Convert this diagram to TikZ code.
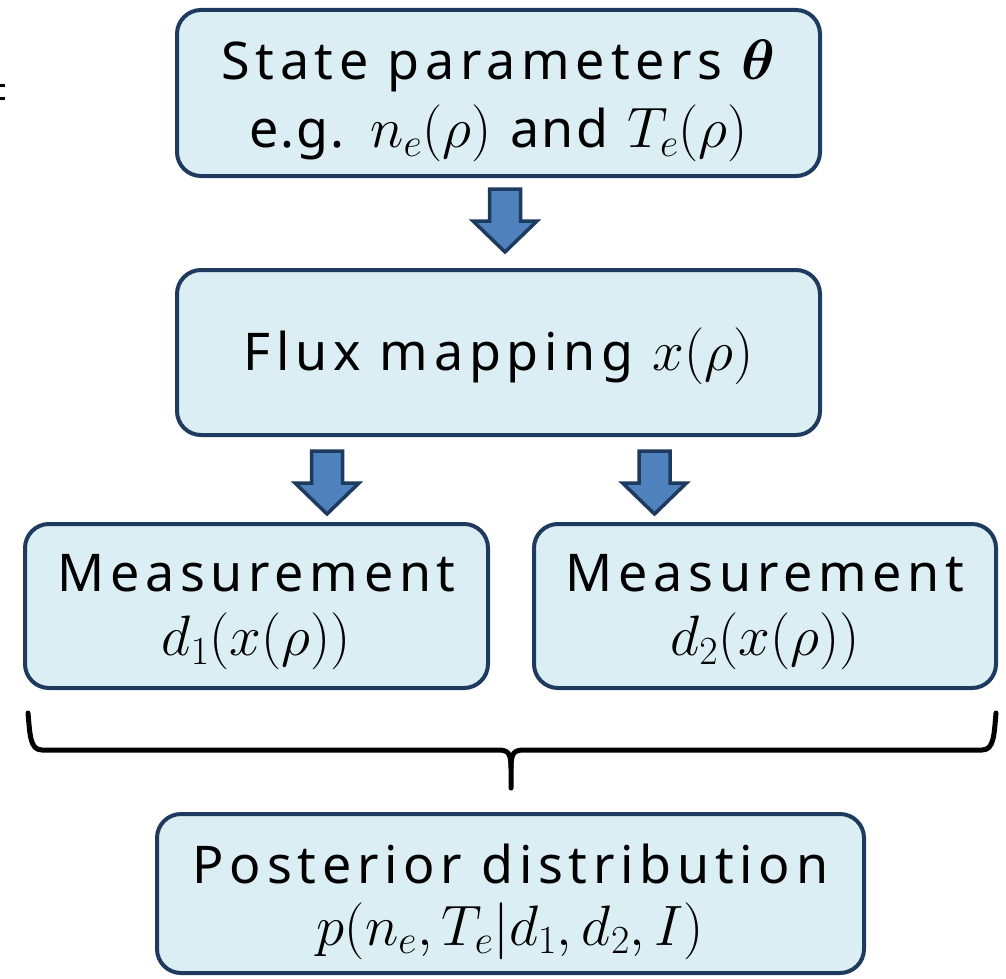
\documentclass[tikz,border=0pt]{standalone}
\usepackage{fix-cm}
\usepackage{bm}
\usepackage{fontspec}
\newfontfamily\boxfont[LetterSpace=11]{Noto Sans}
\newfontfamily\tightfont[LetterSpace=4]{Noto Sans}
\usetikzlibrary{calc}

\definecolor{boxfill}{HTML}{DAEEF3}
\definecolor{boxline}{HTML}{1F3A5F}
\definecolor{arrowfill}{HTML}{4F81BD}

% math set a little larger than the surrounding words
\newcommand{\mathbig}[1]{{\fontsize{57}{60}\selectfont$#1$}}

\tikzset{
  box/.style={draw=boxline, fill=boxfill, line width=4pt, rounded corners=24pt,
    inner sep=0pt, align=center, text=black},
  blk/.style={draw=boxline, fill=arrowfill, line width=3.5pt, line join=miter},
  downarrow/.pic={\path[blk] (-15.5,0) -- (15.5,0) -- (15.5,32) -- (32,32)
    -- (0,63) -- (-32,32) -- (-15.5,32) -- cycle;},
  brace/.style={draw=black, line width=5pt, line cap=round, line join=round},
}

\begin{document}
\begin{tikzpicture}[x=1pt, y=-1pt]
\useasboundingbox (0,0) rectangle (1006,979);

% small marks at the left edge
\fill (0,84) rectangle (5,87);
\fill (0,97) rectangle (5,100);

% boxes
\node[box, minimum width=643pt, minimum height=166pt,
      font=\boxfont\fontsize{52}{68}\selectfont] (state) at (498.5,93)
  {\rule{0pt}{56pt}State parameters \mathbig{\bm{\theta}}\\
   {\tightfont e.g.} \mathbig{n_e(\rho)} {\tightfont and} \mathbig{T_e(\rho)}\rule[-14pt]{0pt}{14pt}};

\node[box, minimum width=643pt, minimum height=165pt,
      font=\boxfont\fontsize{52}{68}\selectfont] (flux) at (498.5,352.5)
  {\rule[-11pt]{0pt}{61pt}Flux mapping \mathbig{x(\rho)}};

\node[box, minimum width=463pt, minimum height=164pt,
      font=\boxfont\fontsize{52}{64}\selectfont] (meas1) at (256.5,606)
  {\rule{0pt}{50pt}Measurement\\ \mathbig{d_1(x(\rho))}\rule[-14pt]{0pt}{14pt}};

\node[box, minimum width=462pt, minimum height=164pt,
      font=\boxfont\fontsize{52}{64}\selectfont] (meas2) at (765,606)
  {\rule{0pt}{50pt}Measurement\\ \mathbig{d_2(x(\rho))}\rule[-14pt]{0pt}{14pt}};

\node[box, minimum width=707pt, minimum height=159pt,
      font=\boxfont\fontsize{52}{62}\selectfont] (post) at (510.5,893.5)
  {\rule{0pt}{56pt}Posterior distribution\\
   \mathbig{p(n_e,T_e|d_1,d_2,I)}\rule[-13pt]{0pt}{13pt}};

% block arrows
\pic at ($(state.south)+(6.5,11)$) {downarrow};
\pic at ($(flux.south)+(-171.5,14)$) {downarrow};
\pic at ($(flux.south)+(156,14)$) {downarrow};

% brace gathering both measurements
\coordinate (braceL) at (28,713);
\coordinate (braceR) at (996,713);
\coordinate (braceM) at (511,788);
\draw[brace] (braceL) .. controls (30,735) and (30,750) .. (42,750) -- (498,750)
  .. controls (508,750) and (511,753) .. (511,768) -- (braceM);
\draw[brace] (511,768) .. controls (511,753) and (514,750) .. (524,750) -- (982,750)
  .. controls (994,750) and (994,735) .. (braceR);
\end{tikzpicture}
\end{document}
